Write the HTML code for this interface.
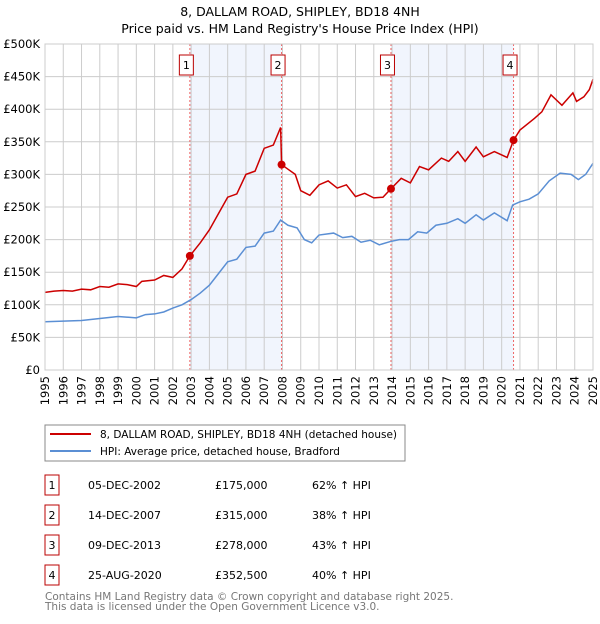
<!DOCTYPE html>
<html><head><meta charset="utf-8"><style>
body{margin:0;background:#fff;width:600px;height:620px;overflow:hidden;font-family:"DejaVu Sans","Liberation Sans",sans-serif;}
svg text{font-family:"DejaVu Sans","Liberation Sans",sans-serif;}
</style></head><body>
<svg id="chart" width="600" height="620">
<text x="300" y="16" text-anchor="middle" font-size="12.5">8, DALLAM ROAD, SHIPLEY, BD18 4NH</text>
<text x="300" y="33" text-anchor="middle" font-size="12.5">Price paid vs. HM Land Registry's House Price Index (HPI)</text>
<g id="grid"></g><g id="series"></g><g id="axes"></g>
<rect x="45" y="425" width="360" height="36" fill="none" stroke="#888"/>
<line x1="50" y1="434" x2="91" y2="434" stroke="#cc0000" stroke-width="2"/>
<text x="100" y="438" font-size="10.5">8, DALLAM ROAD, SHIPLEY, BD18 4NH (detached house)</text>
<line x1="50" y1="451" x2="91" y2="451" stroke="#5b8fd4" stroke-width="2"/>
<text x="100" y="455" font-size="10.5">HPI: Average price, detached house, Bradford</text>
<g id="table" font-size="11"></g>
<text x="45" y="600" font-size="10.5" fill="#777">Contains HM Land Registry data © Crown copyright and database right 2025.</text>
<text x="45" y="610" font-size="10.5" fill="#777">This data is licensed under the Open Government Licence v3.0.</text>
</svg>
<script>
const years=[1995,1996,1997,1998,1999,2000,2001,2002,2003,2004,2005,2006,2007,2008,2009,2010,2011,2012,2013,2014,2015,2016,2017,2018,2019,2020,2021,2022,2023,2024,2025];
const yTicks=[0,50,100,150,200,250,300,350,400,450,500];
const yTickLabels=["£0","£50K","£100K","£150K","£200K","£250K","£300K","£350K","£400K","£450K","£500K"];
const saleDates=[2002.93,2007.95,2013.94,2020.65];
const salePrices=[175,315,278,352.5];
const saleLabels=["1","2","3","4"];
const saleDateText=["05-DEC-2002","14-DEC-2007","09-DEC-2013","25-AUG-2020"];
const salePriceText=["£175,000","£315,000","£278,000","£352,500"];
const saleHpiText=["62% ↑ HPI","38% ↑ HPI","43% ↑ HPI","40% ↑ HPI"];
const redT=[1995,1995.5,1996,1996.5,1997,1997.5,1998,1998.5,1999,1999.5,2000,2000.3,2001,2001.5,2002,2002.5,2002.93,2003.5,2004,2004.5,2005,2005.5,2006,2006.5,2007,2007.5,2007.9,2007.95,2008.3,2008.7,2009,2009.5,2010,2010.5,2011,2011.5,2012,2012.5,2013,2013.5,2013.94,2014.5,2015,2015.5,2016,2016.7,2017.1,2017.6,2018,2018.6,2019,2019.6,2020.3,2020.65,2021,2021.8,2022.2,2022.7,2023.3,2023.9,2024.1,2024.5,2024.8,2025];
const redV=[119,121,122,121,124,123,128,127,132,131,128,136,138,145,142,155,175,195,215,240,265,270,300,305,340,345,372,315,308,300,275,268,284,290,279,284,266,271,264,265,278,294,287,312,307,325,320,335,320,342,327,335,326,352.5,368,386,396,422,406,425,412,419,430,446];
const blueT=[1995,1996,1997,1998,1999,2000,2000.5,2001,2001.5,2002,2002.5,2003,2003.5,2004,2004.5,2005,2005.5,2006,2006.5,2007,2007.5,2007.9,2008.3,2008.8,2009.2,2009.6,2010,2010.8,2011.3,2011.8,2012.3,2012.8,2013.3,2013.9,2014.4,2014.9,2015.4,2015.9,2016.4,2017,2017.6,2018,2018.6,2019,2019.6,2020.3,2020.6,2021,2021.5,2022,2022.6,2023.2,2023.8,2024.2,2024.6,2025];
const blueV=[74,75,76,79,82,80,85,86,89,95,100,108,118,130,148,166,170,188,190,210,213,230,222,218,200,195,207,210,203,205,196,199,192,197,200,200,212,210,222,225,232,225,238,230,241,229,253,258,262,270,290,302,300,292,300,317];
const X0=45,X1=593,Y0=370,Y1=44;
const xs=t=>X0+(t-1995)/(2025-1995)*(X1-X0);
const ys=v=>Y0-v/500*(Y0-Y1);
const NS="http://www.w3.org/2000/svg";
function mk(p,tag,a){const e=document.createElementNS(NS,tag);for(const k in a)e.setAttribute(k,a[k]);p.appendChild(e);return e;}
const grid=document.getElementById('grid'),ser=document.getElementById('series'),ax=document.getElementById('axes'),tb=document.getElementById('table');
for(let i=0;i<saleDates.length;i+=2){
 const r=mk(grid,'rect',{x:xs(saleDates[i]),y:Y1,width:xs(saleDates[i+1])-xs(saleDates[i]),height:Y0-Y1,fill:'#eef2fc',opacity:0.8});
 
 
}
years.forEach(y=>{
 const l=mk(grid,'line',{x1:xs(y),x2:xs(y),y1:Y1,y2:Y0,stroke:'#ccc','stroke-width':1});
 
 
 const t=mk(ax,'text',{x:0,y:0,'font-size':11.5,'text-anchor':'end',transform:`translate(${xs(y)+4},${Y0+6}) rotate(-90)`});
 t.textContent=y;
 
 
});
yTicks.forEach((v,i)=>{
 const l=mk(grid,'line',{x1:X0,x2:X1,y1:ys(v),y2:ys(v),stroke:'#ccc','stroke-width':1});
 
 
 const t=mk(ax,'text',{x:X0-5,y:ys(v)+4,'font-size':11.5,'text-anchor':'end'});
 t.textContent=yTickLabels[i];
 
 
});
saleDates.forEach((d,i)=>{
 const l=mk(grid,'line',{x1:xs(d),x2:xs(d),y1:Y1,y2:Y0,stroke:'#e66','stroke-width':1,'stroke-dasharray':'2,2'});
 
 
 const b=mk(ax,'rect',{x:xs(d)-10.5,y:55,width:14,height:20,fill:'#fff',stroke:'#b00','stroke-width':1});
 
 
 const t=mk(ax,'text',{x:xs(d)-3.5,y:69,'font-size':11,'text-anchor':'middle'});
 t.textContent=saleLabels[i];
 
 
});
const bl=mk(ser,'polyline',{points:blueT.map((t,i)=>xs(t)+','+ys(blueV[i])).join(' '),fill:'none',stroke:'#5b8fd4','stroke-width':1.5});


const rl=mk(ser,'polyline',{points:redT.map((t,i)=>xs(t)+','+ys(redV[i])).join(' '),fill:'none',stroke:'#cc0000','stroke-width':1.5});


saleDates.forEach((d,i)=>{
 const c=mk(ser,'circle',{cx:xs(d),cy:ys(salePrices[i]),r:4,fill:'#cc0000'});
 
 
 const y=475+i*30;
 const b=mk(tb,'rect',{x:45,y:y,width:14,height:20,fill:'#fff',stroke:'#b00'});
 
 
 const n=mk(tb,'text',{x:52,y:y+14,'text-anchor':'middle'});n.textContent=saleLabels[i];
 
 
 const a=mk(tb,'text',{x:88,y:y+14});a.textContent=saleDateText[i];
 
 
 const p=mk(tb,'text',{x:215,y:y+14});p.textContent=salePriceText[i];
 
 
 const h=mk(tb,'text',{x:312,y:y+14});h.textContent=saleHpiText[i];
 
 
});
const fr=mk(ax,'rect',{x:X0,y:Y1,width:X1-X0,height:Y0-Y1,fill:'none',stroke:'#ccc'});


</script>
</body></html>
